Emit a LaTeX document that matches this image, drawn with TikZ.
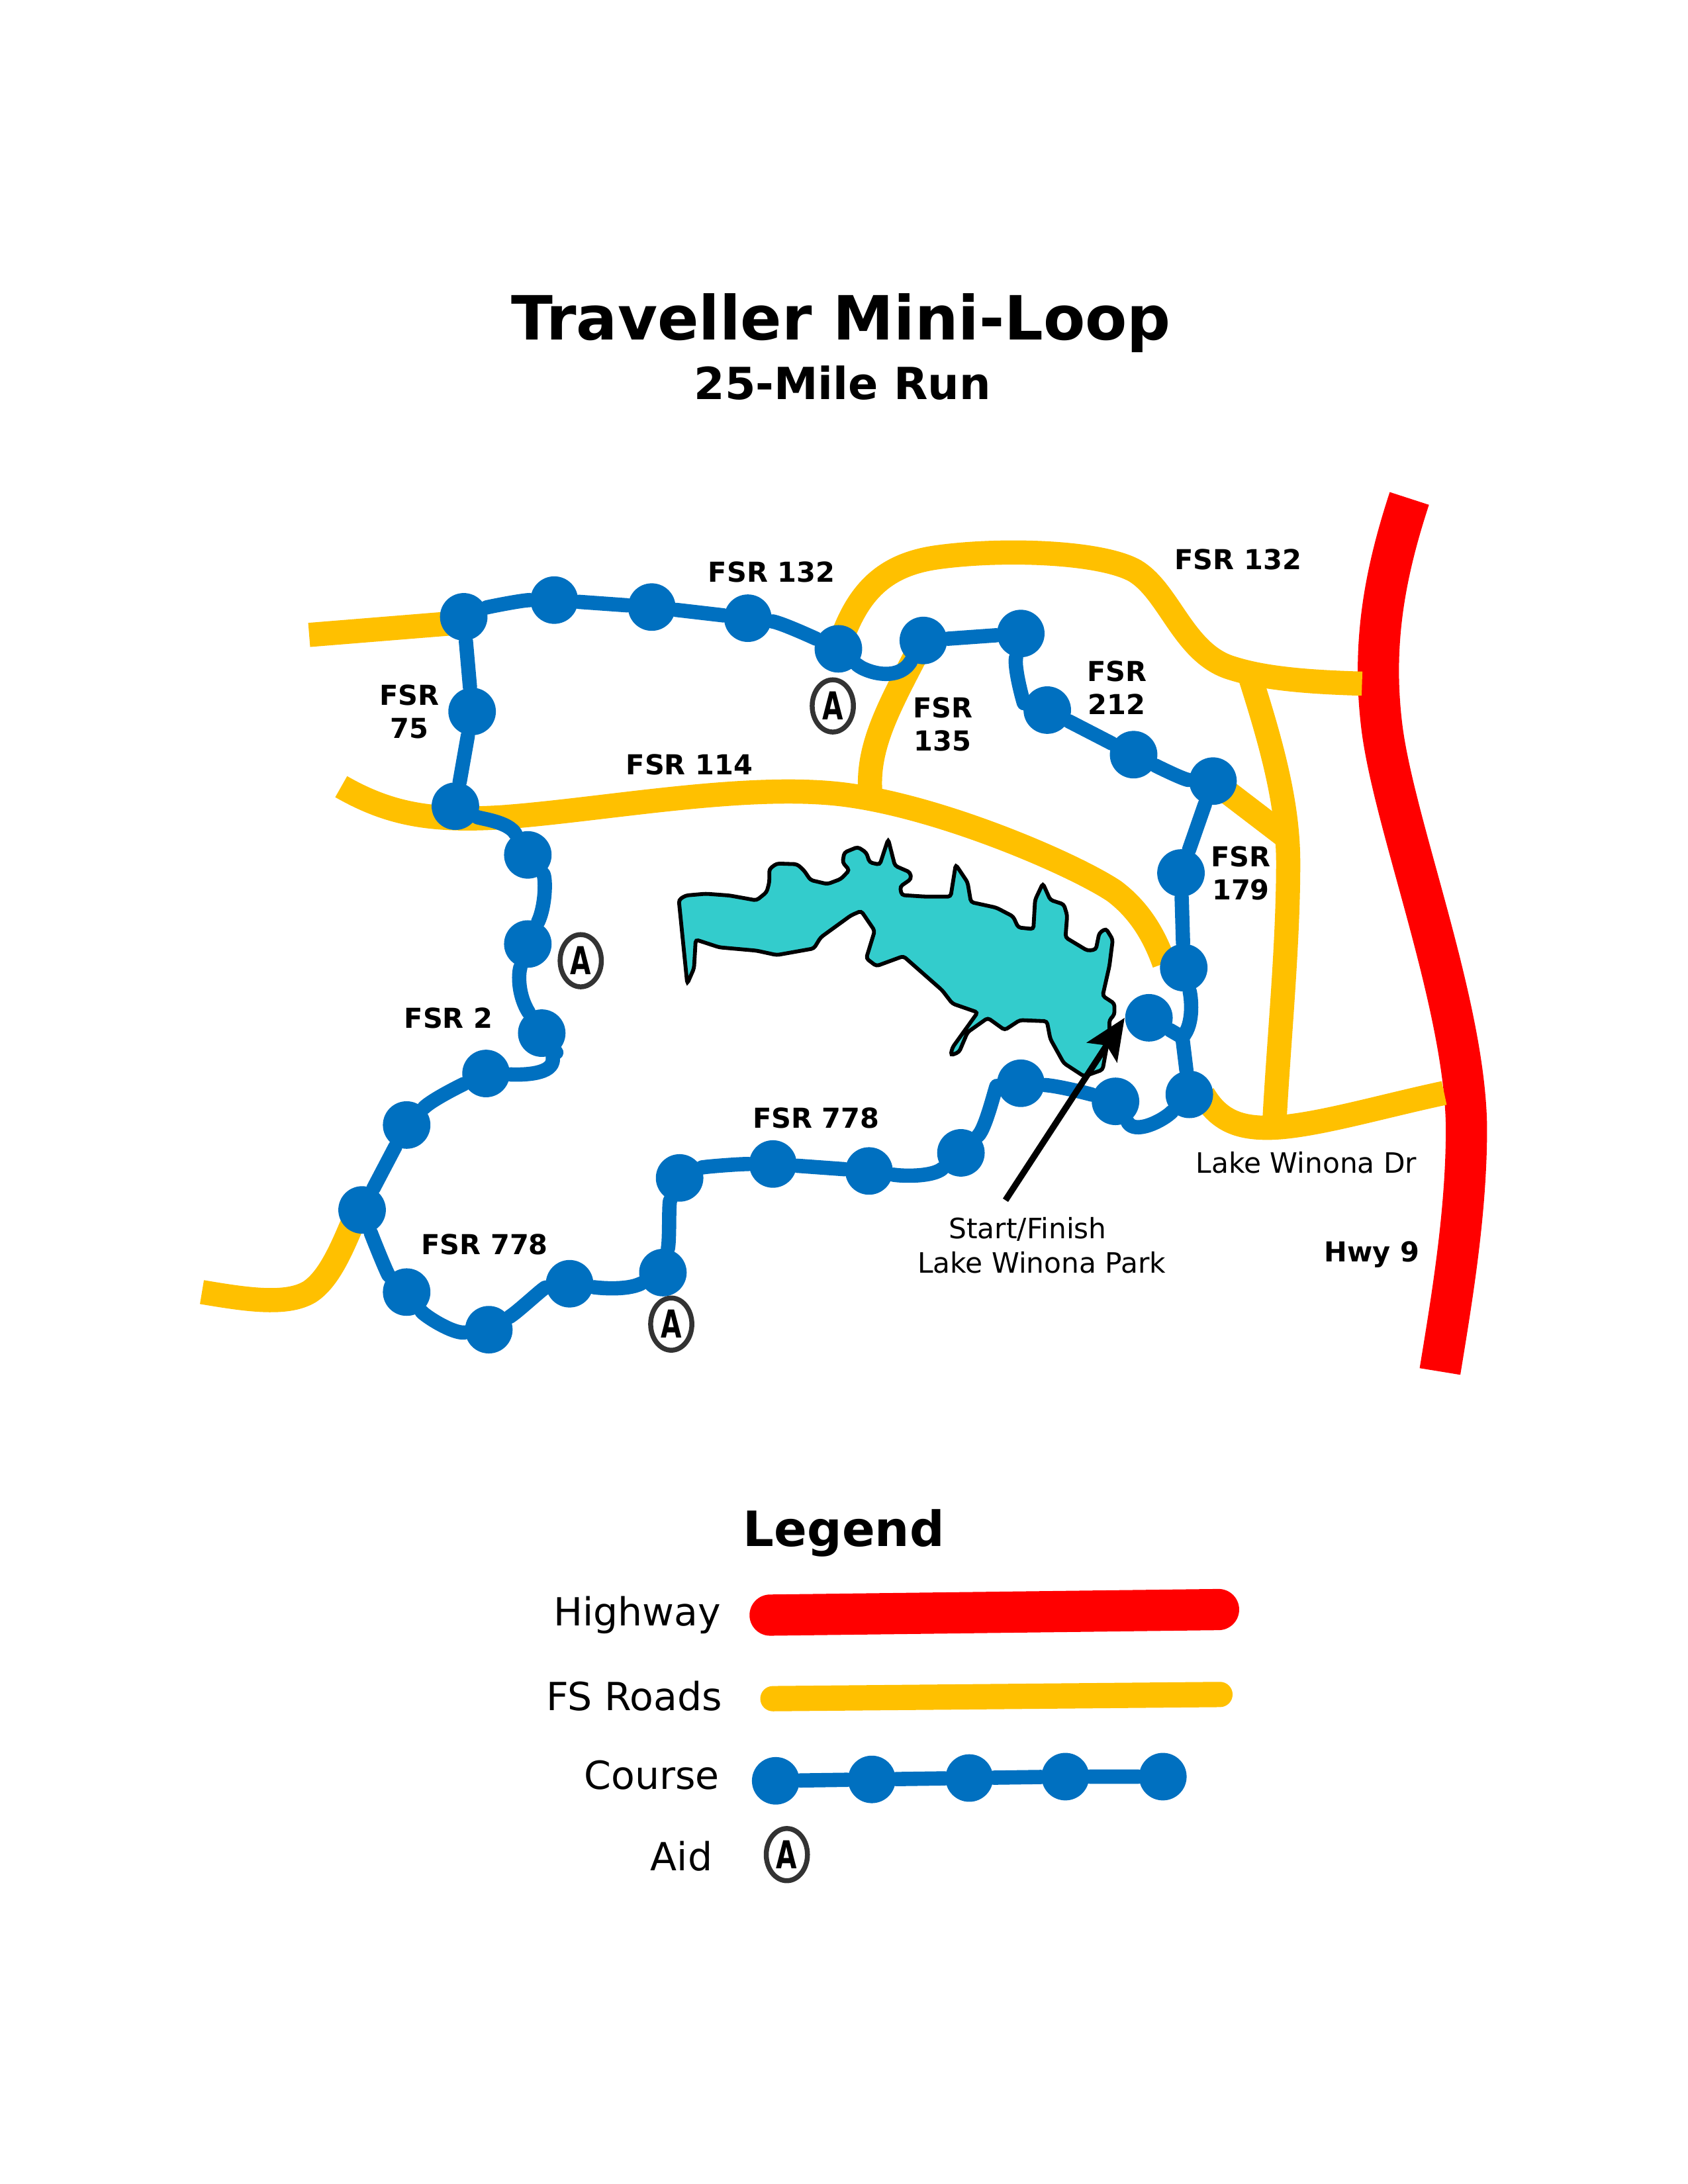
\documentclass[tikz,border=0pt]{standalone}
\usepackage{fontspec}
\setmainfont{DejaVu Sans}
\usetikzlibrary{arrows.meta,shapes.geometric}
\definecolor{roadcol}{HTML}{FFC000}
\definecolor{coursecol}{HTML}{0070C0}
\definecolor{lakecol}{HTML}{33CCCC}
\newcommand{\aidletter}{\scalebox{.7}[1]{A}}
\tikzset{
  stopdot/.style={circle,fill=coursecol,inner sep=0,minimum size=17.3pt},
  course/.style={draw=coursecol,line width=5.2pt,line cap=round,line join=round},
  road/.style={draw=roadcol,line width=8.8pt},
  highway/.style={draw=red,line width=15pt},
  aid/.style={ellipse,draw=black!80,line width=1.8pt,inner sep=0,minimum width=15pt,minimum height=19pt,font=\bfseries\fontsize{14}{15}\selectfont},
  roadname/.style={font=\bfseries\fontsize{10}{12}\selectfont,align=center},
  plainname/.style={font=\fontsize{10.2}{12}\selectfont,align=center},
  legendname/.style={font=\fontsize{14.1}{16}\selectfont,anchor=east,inner sep=0},
}
\begin{document}
\begin{tikzpicture}[x=0.5068pt,y=-0.5068pt]
  \useasboundingbox (0pt,0pt) rectangle (614.295pt,-794.97pt);

  % titles
  \node[font=\bfseries\fontsize{22.2}{26}\selectfont] (title) at (604,232) {Traveller Mini-Loop};
  \node[font=\bfseries\fontsize{16.1}{20}\selectfont] (subtitle) at (605,275) {25-Mile Run};

  % highway and forest roads
  \draw[highway] (1012,358) .. controls (995,410) and (985,460) .. (992,520)
    .. controls (1000,590) and (1052,720) .. (1053,810) .. controls (1053,870) and (1043,930) .. (1034,985);
  \draw[road] (222,456) -- (333,447);
  \draw[road] (602,466) .. controls (615,425) and (635,405) .. (675,400)
    .. controls (720,394) and (790,396) .. (815,410) .. controls (840,425) and (850,470) .. (885,480)
    .. controls (910,488) and (945,490) .. (978,491);
  \draw[road] (897,484) .. controls (915,540) and (925,580) .. (925,620) .. controls (925,680) and (918,750) .. (915,808);
  \draw[road] (871,561) -- (922,600);
  \draw[road] (245,565) .. controls (280,585) and (310,590) .. (360,587)
    .. controls (430,582) and (530,563) .. (600,570) .. controls (670,577) and (770,620) .. (800,640)
    .. controls (820,655) and (830,675) .. (836,692);
  \draw[road] (662,462) .. controls (640,505) and (622,535) .. (625,570);
  \draw[road] (864,786) .. controls (875,805) and (890,810) .. (910,810)
    .. controls (940,810) and (990,795) .. (1037,785);
  \draw[road] (145,928) .. controls (175,933) and (205,938) .. (222,928) .. controls (238,918) and (248,890) .. (256,872);

  % lake
  \begin{scope}[shift={(475.3,570.3)},xscale=0.2425,yscale=0.1584]
    \draw[fill=lakecol,draw=black,line width=1.4pt,rounded corners=1pt]
      (50,480) -- (70,460) -- (130,452) -- (200,460) -- (280,482) -- (310,445) -- (318,400) -- (318,340)
      -- (340,315) -- (400,318) -- (420,345) -- (440,390) -- (490,408) -- (530,385) -- (555,345) -- (535,310)
      -- (540,265) -- (580,240) -- (605,265) -- (615,310) -- (645,320) -- (670,205) -- (690,325) -- (735,355)
      -- (738,385) -- (705,420) -- (710,458) -- (780,465) -- (855,465) -- (870,320) -- (905,400) -- (915,490)
      -- (990,515) -- (1040,555) -- (1055,605) -- (1100,612) -- (1105,480) -- (1128,405) -- (1150,480) -- (1190,500)
      -- (1200,550) -- (1195,650) -- (1260,710) -- (1285,705) -- (1295,630) -- (1315,610) -- (1335,660) -- (1325,780)
      -- (1305,915) -- (1340,950) -- (1340,1000) -- (1325,1025) -- (1325,1080) -- (1305,1250) -- (1250,1280) -- (1190,1220)
      -- (1150,1110) -- (1140,1030) -- (1060,1025) -- (1015,1070) -- (965,1015) -- (905,1080) -- (880,1170) -- (855,1185)
      -- (860,1150) -- (935,990) -- (860,950) -- (830,890) -- (715,735) -- (635,780) -- (605,745) -- (630,620)
      -- (590,530) -- (560,550) -- (470,650) -- (450,700) -- (340,730) -- (280,710) -- (170,695) -- (100,660)
      -- (95,790) -- (75,860) -- cycle;
  \end{scope}

  % course stops
  \node[stopdot] (s1) at (333,443) {};
  \node[stopdot] (s2) at (398,431) {};
  \node[stopdot] (s3) at (468,436) {};
  \node[stopdot] (s4) at (537,444) {};
  \node[stopdot] (s5) at (602,466) {};
  \node[stopdot] (s6) at (663,460) {};
  \node[stopdot] (s7) at (733,455) {};
  \node[stopdot] (s8) at (752,510) {};
  \node[stopdot] (s9) at (814,542) {};
  \node[stopdot] (s10) at (871,561) {};
  \node[stopdot] (s11) at (848,627) {};
  \node[stopdot] (s12) at (850,695) {};
  \node[stopdot] (s13) at (854,786) {};
  \node[stopdot] (s14) at (825,731) {};
  \node[stopdot] (s15) at (801,791) {};
  \node[stopdot] (s16) at (733,778) {};
  \node[stopdot] (s17) at (690,828) {};
  \node[stopdot] (s18) at (624,841) {};
  \node[stopdot] (s19) at (555,836) {};
  \node[stopdot] (s20) at (488,846) {};
  \node[stopdot] (s21) at (476,914) {};
  \node[stopdot] (s22) at (409,922) {};
  \node[stopdot] (s23) at (351,955) {};
  \node[stopdot] (s24) at (292,928) {};
  \node[stopdot] (s25) at (260,869) {};
  \node[stopdot] (s26) at (292,808) {};
  \node[stopdot] (s27) at (349,771) {};
  \node[stopdot] (s28) at (389,742) {};
  \node[stopdot] (s29) at (379,678) {};
  \node[stopdot] (s30) at (379,614) {};
  \node[stopdot] (s31) at (327,579) {};
  \node[stopdot] (s32) at (339,511) {};
  \coordinate (joint) at (849,745);

  % course
  \draw[course] (s1) .. controls (350,436) and (375,431) .. (s2);
  \draw[course] (s2) -- (s3) -- (s4);
  \draw[course] (s4) .. controls (560,447) and (580,456) .. (s5);
  \draw[course] (s5) .. controls (622,483) and (645,490) .. (s6);
  \draw[course] (s6) -- (s7);
  \draw[course] (s7) .. controls (728,480) and (735,505) .. (s8);
  \draw[course] (s8) -- (s9);
  \draw[course] (s9) .. controls (830,550) and (850,560) .. (s10);
  \draw[course] (s10) -- (s11) -- (s12);
  \draw[course] (s12) .. controls (855,715) and (858,735) .. (joint) -- (s13);
  \draw[course] (s14) -- (joint);
  \draw[course] (s13) .. controls (835,805) and (815,815) .. (s15);
  \draw[course] (s15) .. controls (780,785) and (760,780) .. (s16);
  \draw[course] (s16) .. controls (715,780) and (708,810) .. (s17);
  \draw[course] (s17) .. controls (670,845) and (650,845) .. (s18);
  \draw[course] (s18) -- (s19);
  \draw[course] (s19) .. controls (530,836) and (505,838) .. (s20);
  \draw[course] (s20) .. controls (480,865) and (481,890) .. (s21);
  \draw[course] (s21) .. controls (450,927) and (430,925) .. (s22);
  \draw[course] (s22) .. controls (390,925) and (372,942) .. (s23);
  \draw[course] (s23) .. controls (325,958) and (305,945) .. (s24);
  \draw[course] (s24) .. controls (278,915) and (268,890) .. (s25);
  \draw[course] (s25) -- (s26);
  \draw[course] (s26) .. controls (310,790) and (330,780) .. (s27);
  \draw[course] (s27) .. controls (375,772) and (398,772) .. (397,760) .. controls (397,755) and (395,750) .. (s28);
  \draw[course] (s28) .. controls (372,715) and (372,700) .. (s29);
  \draw[course] (s29) .. controls (392,650) and (392,630) .. (s30);
  \draw[course] (s30) .. controls (365,590) and (345,588) .. (s31);
  \draw[course] (s31) -- (s32) -- (s1);

  % aid stations
  \node[aid] (aid1) at (598,507) {\aidletter};
  \node[aid] (aid2) at (417,690) {\aidletter};
  \node[aid] (aid3) at (482,951) {\aidletter};

  % start arrow
  \coordinate (arrowtail) at (722,862);
  \draw[line width=2.3pt,-{Stealth[length=15pt,width=13pt,inset=3pt]}] (arrowtail) -- (s14.west);

  % road names
  \node[roadname] (n132a) at (554,411) {FSR 132};
  \node[roadname] (n132b) at (889,402) {FSR 132};
  \node[roadname] (n75) at (294,511) {FSR\\75};
  \node[roadname] (n114) at (495,549) {FSR 114};
  \node[roadname] (n135) at (677,520) {FSR\\135};
  \node[roadname] (n212) at (802,494) {FSR\\212};
  \node[roadname] (n179) at (891,627) {FSR\\179};
  \node[roadname] (n2) at (322,731) {FSR 2};
  \node[roadname] (n778a) at (586,803) {FSR 778};
  \node[roadname] (n778b) at (348,894) {FSR 778};
  \node[roadname] (nhwy) at (985,901) {Hwy 9};
  \node[plainname] (ndrive) at (938,835) {Lake Winona Dr};
  \node[plainname] (nstart) at (738,883) {Start/Finish};
  \node[plainname] (npark) at (748,907) {Lake Winona Park};

  % legend
  \node[font=\bfseries\fontsize{17.7}{20}\selectfont] (legend) at (606,1101) {Legend};
  \node[legendname] (lhighway) at (518,1160) {Highway};
  \node[legendname] (lroads) at (519,1218) {FS Roads};
  \node[legendname] (lcourse) at (517,1275) {Course};
  \node[legendname] (laid) at (512,1333) {Aid};
  \coordinate (ha) at (553,1160);
  \coordinate (hb) at (875,1156);
  \coordinate (ra) at (555,1220);
  \coordinate (rb) at (876,1217);
  \draw[highway,line cap=round] (ha) -- (hb);
  \draw[road,line width=9.2pt,line cap=round] (ra) -- (rb);
  \node[stopdot] (k1) at (557,1279) {};
  \node[stopdot] (k2) at (626,1278) {};
  \node[stopdot] (k3) at (696,1277) {};
  \node[stopdot] (k4) at (765,1276) {};
  \node[stopdot] (k5) at (835,1276) {};
  \draw[course] (k1) -- (k2) -- (k3) -- (k4) -- (k5);
  \node[aid] (aidkey) at (565,1332) {\aidletter};
\end{tikzpicture}
\end{document}
